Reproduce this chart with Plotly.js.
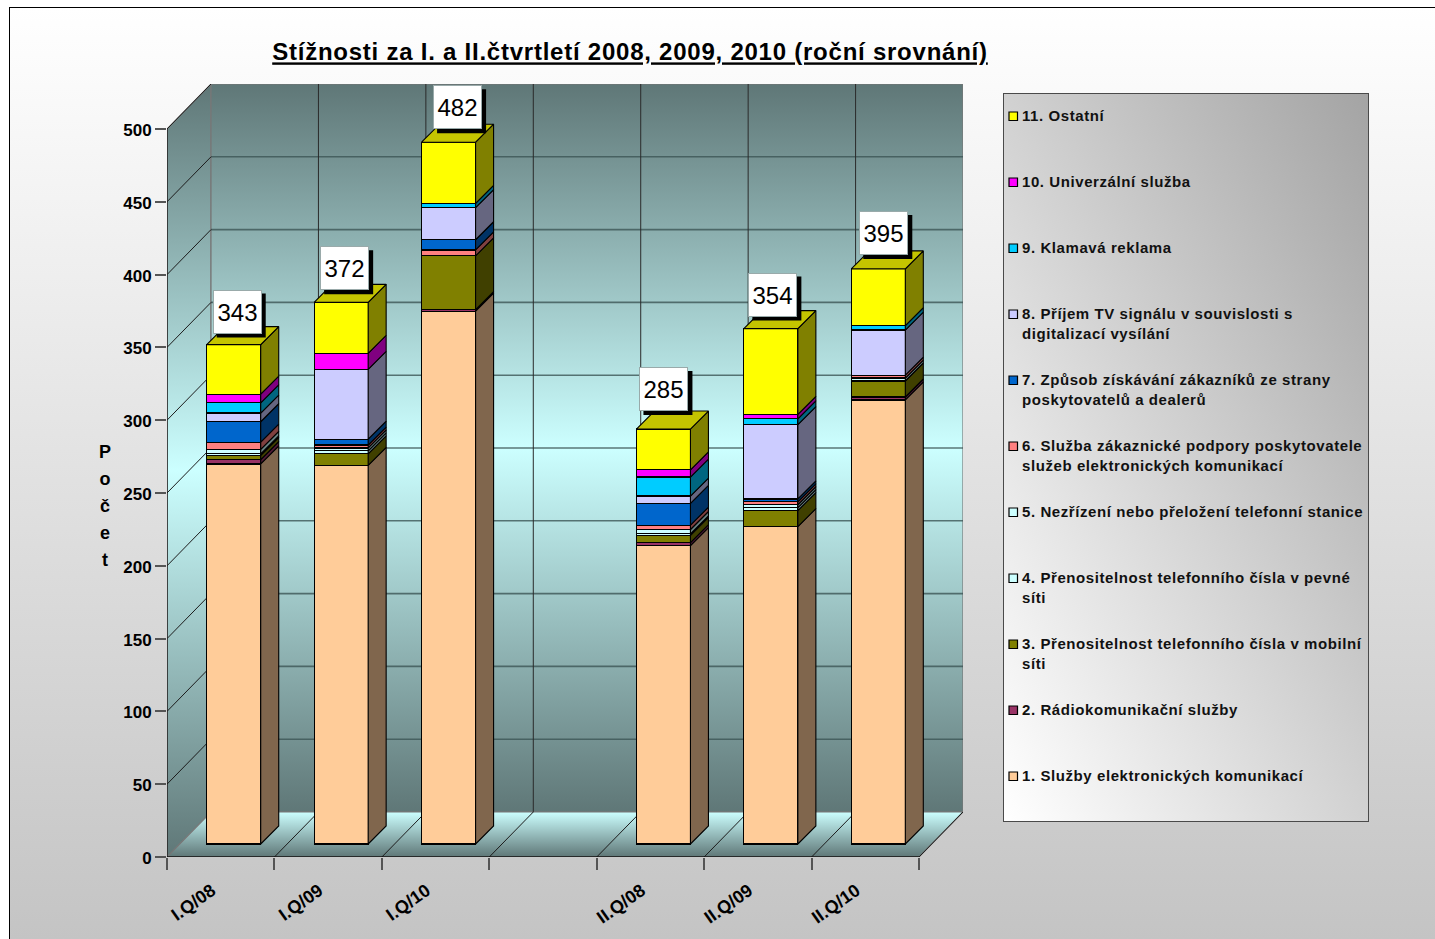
<!DOCTYPE html>
<html lang="cs">
<head>
<meta charset="utf-8">
<title>Stížnosti</title>
<script src="https://cdn.plot.ly/plotly-3.0.1.min.js"></script>
<style>
html,body{margin:0;padding:0;background:#fff;overflow:hidden}
#frame{position:absolute;left:9px;top:7px;width:1426px;height:932px;box-sizing:border-box;border-left:1.5px solid #000;border-top:1.5px solid #000;background:linear-gradient(to bottom,#ffffff,#c4c4c4)}
#legendbox{position:absolute;left:1003px;top:93px;width:366px;height:729px;box-sizing:border-box;border:1.5px solid #4a4a4a;background:linear-gradient(to top right,#ffffff,#a4a4a4)}
#chart{position:absolute;left:0;top:0;width:1435px;height:939px}
</style>
</head>
<body>
<div id="frame"></div>
<div id="legendbox"></div>
<div id="chart"></div>
<script>
// ---- data ----
const categories = ['I.Q/08','I.Q/09','I.Q/10','II.Q/08','II.Q/09','II.Q/10'];
const categorySlots = [0,1,2,4,5,6];
const totals = [343,372,482,285,354,395];

const sluzbyElektronickych = [261,260,366,205,218,305];
const radiokomunikacni     = [3,0,1,2,0,2];
const prenositelnostMobil  = [3,8,37,5,11,11];
const prenositelnostPevna  = [1,2,0,1,2,2];
const nezrizeni            = [3,2,0,3,2,0];
const sluzbaPodpory        = [5,2,4,3,2,2];
const zpusobZiskavani      = [14,4,7,15,2,0];
const prijemTv             = [6,48,22,5,51,31];
const klamavaReklama       = [7,0,3,13,4,3];
const univerzalniSluzba    = [6,11,0,5,3,0];
const ostatni              = [34,35,42,28,59,39];

const seriesValues = [sluzbyElektronickych,radiokomunikacni,prenositelnostMobil,prenositelnostPevna,nezrizeni,
  sluzbaPodpory,zpusobZiskavani,prijemTv,klamavaReklama,univerzalniSluzba,ostatni];
const seriesNames = ['1. Služby elektronických komunikací','2. Rádiokomunikační služby',
  '3. Přenositelnost telefonního čísla v mobilní<br>síti','4. Přenositelnost telefonního čísla v pevné<br>síti',
  '5. Nezřízení nebo přeložení telefonní stanice','6. Služba zákaznické podpory poskytovatele<br>služeb elektronických komunikací',
  '7. Způsob získávání zákazníků ze strany<br>poskytovatelů a dealerů','8. Příjem TV signálu v souvislosti s<br>digitalizací vysílání',
  '9. Klamavá reklama','10. Univerzální služba','11. Ostatní'];
const seriesColors = ['#FFCC99','#993366','#808000','#CCFFFF','#CCFFFF','#FF8080','#0066CC','#CCCCFF','#00CCFF','#FF00FF','#FFFF00'];
const yTicks = [0,50,100,150,200,250,300,350,400,450,500];
const titleString = 'Stížnosti za I. a II.čtvrtletí 2008, 2009, 2010 (roční srovnání)';

// ---- layout geometry ----
const plotL=167, plotR=963, plotT=84, plotB=857, pxCat=107.43, pxUnit=1.456;
const xMin=-0.5, xMax=xMin+(plotR-plotL)/pxCat, yMax=(plotB-plotT)/pxUnit, lastEdge=6.5;
const wallDX=44/pxCat, wallDY=45/pxUnit;
const barInsetX=13/pxCat, barInsetY=13/pxUnit;
const barDX=18/pxCat, barDY=18/pxUnit, barW=54/pxCat;
const labelDx=[3.5,3.5,9,0.5,2,5.5];
const labelDy=[11,12,13,18,12,14];
const legendRows=[776,710,644,578,512,446,380,314,248,182,116];
const FONT='"Liberation Sans", Arial, sans-serif';
const px=v=>(v-plotL)/(plotR-plotL), py=v=>(plotB-v)/(plotB-plotT);
const shade=(hex,f)=>'#'+[1,3,5].map(i=>Math.round(parseInt(hex.substr(i,2),16)*f).toString(16).padStart(2,'0')).join('');
const spaced=(t,sp)=>t.split('<br>').map(l=>'<span style="letter-spacing:'+sp+'px">'+l+'</span>').join('<br>');

const traces=[];
const wallScale=[[0,'#5f7777'],[0.5,'#ccffff'],[1,'#5f7777']];
function wall(x,y,scale){
  traces.push({type:'scatter',mode:'lines',x,y,fill:'toself',cliponaxis:false,hoverinfo:'skip',showlegend:false,
    line:{color:'#777',width:1.2},fillgradient:{type:'vertical',colorscale:scale}});
}
const e0=xMin,e1=lastEdge;
wall([e0,e0+wallDX,e0+wallDX,e0,e0],[0,wallDY,500+wallDY,500,0],wallScale);
wall([e0+wallDX,e1+wallDX,e1+wallDX,e0+wallDX,e0+wallDX],[wallDY,wallDY,500+wallDY,500+wallDY,wallDY],wallScale);
wall([e0,e1,e1+wallDX,e0+wallDX,e0],[0,0,wallDY,wallDY,0],[[0,'#5f7777'],[1,'#ccffff']]);

// gridlines on walls
const edges=[]; for(let e=xMin;e<=lastEdge;e+=1) edges.push(e);
let hx=[],hy=[],dx=[],dy=[],vx=[],vy=[];
yTicks.slice(1,-1).forEach(v=>{hx.push(e0+wallDX,e1+wallDX,null);hy.push(v+wallDY,v+wallDY,null);});
yTicks.slice(1).forEach(v=>{dx.push(e0,e0+wallDX,null);dy.push(v,v+wallDY,null);});
edges.forEach((e,i)=>{ if(i>0){dx.push(e,e+wallDX,null);dy.push(0,wallDY,null);}
  if(i>0&&i<edges.length-1){vx.push(e+wallDX,e+wallDX,null);vy.push(wallDY,500+wallDY,null);} });
const gl=(x,y,color,width)=>traces.push({type:'scatter',mode:'lines',x,y,cliponaxis:false,hoverinfo:'skip',showlegend:false,line:{color,width}});
gl(hx,hy,'rgba(60,85,85,0.8)',1.6);
gl(vx,vy,'#2a2a2a',1);
gl(dx,dy,'#1c1c1c',1);
// axis lines
gl([e0,e0],[0,500],'#111',1.3);
gl([e0,e1],[0,0],'#111',1.3);

// stacked bars on the inset axes
const cum=categories.map(()=>0);
seriesValues.forEach((vals,s)=>{
  traces.push({type:'bar',name:seriesNames[s].replace('<br>',' '),x:categorySlots,y:vals,width:barW,xaxis:'x2',yaxis:'y2',
    marker:{color:seriesColors[s],line:{color:'#000',width:1.2}},hoverinfo:'name+y',showlegend:false});
  const sx=[],sy=[];
  vals.forEach((v,i)=>{
    if(v>0){
      const r=categorySlots[i]+barW/2,b=cum[i],t=b+v;
      sx.push(r,r+barDX,r+barDX,r,r,null);
      sy.push(b,b+barDY,t+barDY,t,b,null);
    }
    cum[i]+=v;
  });
  traces.push({type:'scatter',mode:'lines',x:sx,y:sy,xaxis:'x2',yaxis:'y2',fill:'toself',fillcolor:shade(seriesColors[s],0.5),
    line:{color:'#000',width:1.1},hoverinfo:'skip',showlegend:false,cliponaxis:false});
});
// top faces
const tx=[],ty=[];
cum.forEach((t,i)=>{const l=categorySlots[i]-barW/2,r=l+barW;
  tx.push(l,r,r+barDX,l+barDX,l,null);ty.push(t,t,t+barDY,t+barDY,t,null);});
traces.push({type:'scatter',mode:'lines',x:tx,y:ty,xaxis:'x2',yaxis:'y2',fill:'toself',fillcolor:'#C4C400',
  line:{color:'#000',width:1.1},hoverinfo:'skip',showlegend:false,cliponaxis:false});
// carrier for the category-label axis
traces.push({type:'scatter',mode:'none',x:categorySlots,y:totals.map(()=>0),xaxis:'x3',yaxis:'y',hoverinfo:'skip',showlegend:false});

// value labels
const annotations=[], shapes=[];
totals.forEach((t,i)=>{
  annotations.push({xref:'x2',yref:'y2',x:categorySlots[i],y:cum[i],text:String(t),showarrow:false,xanchor:'center',yanchor:'bottom',
    xshift:labelDx[i],yshift:labelDy[i],width:47,height:42,bgcolor:'#fff',bordercolor:'#9aa',borderwidth:1,borderpad:0,
    font:{family:FONT,size:24,color:'#000'}});
  shapes.push({type:'rect',layer:'above',xref:'x2',yref:'y2',xsizemode:'pixel',ysizemode:'pixel',xanchor:categorySlots[i],yanchor:cum[i],
    x0:labelDx[i]-24.5+4,x1:labelDx[i]+24.5+4,y0:labelDy[i]-4,y1:labelDy[i]+44-4,fillcolor:'#000',line:{width:0}});
});
// y axis title
annotations.push({xref:'paper',yref:'paper',x:px(105),y:py(506),xanchor:'center',yanchor:'middle',showarrow:false,align:'center',
  text:['P','o','č','e','t'].map(c=>'<span style="font-size:18px">'+c+'</span>').join('<br>'),
  font:{family:FONT,size:20.8,color:'#000',weight:'bold'}});
// legend
seriesNames.forEach((n,s)=>{
  const yc=legendRows[s];
  annotations.push({xref:'paper',yref:'paper',x:px(1021),y:py(yc-10),xanchor:'left',yanchor:'top',align:'left',showarrow:false,text:spaced(n,0.58),
    borderpad:0,font:{family:FONT,size:15,color:'#111',weight:'bold'}});
  shapes.push({type:'rect',xref:'paper',yref:'paper',x0:px(1009),x1:px(1017.5),y0:py(yc+4.5),y1:py(yc-4),fillcolor:seriesColors[s],line:{color:'#000',width:1.2},layer:'above'});
});

const layout={
  width:1435,height:939,paper_bgcolor:'rgba(0,0,0,0)',plot_bgcolor:'rgba(0,0,0,0)',
  margin:{l:plotL,r:1435-plotR,t:plotT,b:939-plotB,pad:0},showlegend:false,barmode:'stack',
  title:{text:'<u>'+spaced(titleString,0.76)+'</u>',x:px(630),xref:'paper',xanchor:'center',y:1-52/939,yanchor:'middle',font:{family:FONT,size:24,color:'#000',weight:'bold'}},
  xaxis:{type:'linear',range:[xMin,xMax],tickmode:'array',tickvals:edges,showticklabels:false,ticks:'outside',ticklen:12,tickwidth:1.5,tickcolor:'#555',showgrid:false,zeroline:false,showline:false},
  xaxis3:{type:'linear',overlaying:'x',anchor:'y',range:[xMin+9/pxCat,xMax+9/pxCat],tickmode:'array',tickvals:categorySlots,ticktext:categories,tickangle:-35,ticks:'',ticklabelstandoff:19,
    tickfont:{family:FONT,size:18,color:'#000',weight:'bold'},showgrid:false,zeroline:false,showline:false},
  yaxis:{type:'linear',range:[0,yMax],tickmode:'array',tickvals:yTicks,ticks:'outside',ticklen:11,tickwidth:1.5,tickcolor:'#555',ticklabelshift:1,
    tickfont:{family:FONT,size:17,color:'#000',weight:'bold'},showgrid:false,zeroline:false,showline:false},
  xaxis2:{type:'linear',overlaying:'x',anchor:'y2',range:[xMin-barInsetX,xMax-barInsetX],visible:false},
  yaxis2:{type:'linear',overlaying:'y',anchor:'x2',range:[-barInsetY,yMax-barInsetY],visible:false},
  annotations,shapes,hovermode:'closest'
};
Plotly.newPlot('chart',traces,layout,{displayModeBar:false,responsive:false});
</script>
</body>
</html>
